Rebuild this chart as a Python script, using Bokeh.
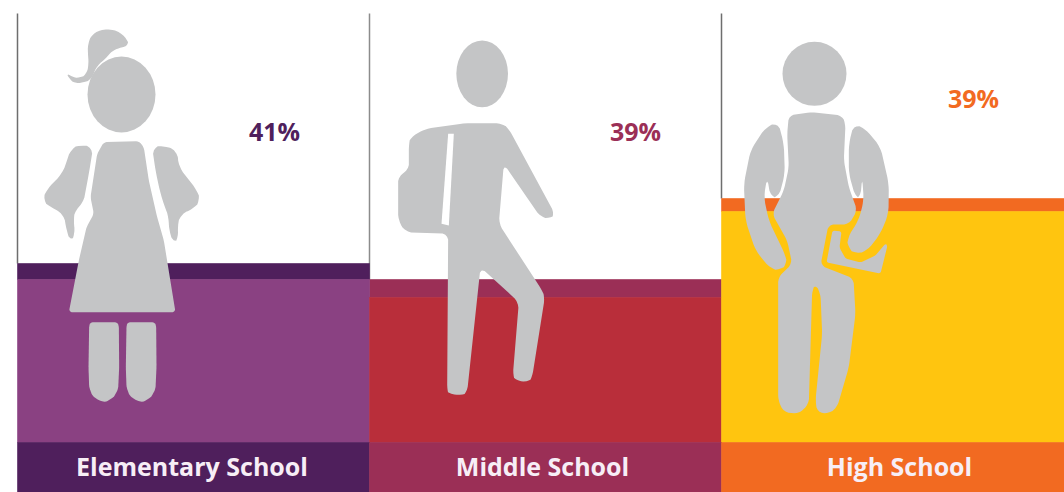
import math
from bokeh.plotting import figure
from bokeh.models import Range1d
from bokeh.core.properties import value
from bokeh.embed import file_html
from bokeh.resources import INLINE

# Chart values
categories = ["Elementary School", "Middle School", "High School"]
percent_labels = ["41%", "39%", "39%"]
panel_left = [17, 369, 721]
panel_right = [369, 721, 1064]
band_top = [263, 279, 198]
fill_top = [279, 297, 211]
label_top = [442, 442, 442]
chart_bottom = [492, 492, 492]
chart_top = [13, 13, 13]
percent_x = [274, 635, 973]
percent_y = [130.5, 130.5, 97.5]
label_x = [191.5, 542, 899]
label_y = [465.5, 465.5, 465.5]
band_colors = ["#4F1F5C", "#9B2F56", "#F26A21"]
fill_colors = ["#8A4182", "#B92E3A", "#FFC50F"]
rule_colors = ["#6E6E6E", "#8C8C8C", "#6E6E6E"]
GRAY = "#C4C5C6"
FONT = "Open Sans"

p = figure(width=1064, height=492, output_backend="svg", toolbar_location=None,
           x_range=Range1d(0, 1064), y_range=Range1d(492, 0), min_border=0)
p.axis.visible = False
p.grid.visible = False
p.outline_line_color = None
p.background_fill_color = "white"

p.segment(x0=panel_left, x1=panel_left, y0=chart_top, y1=band_top, line_color=rule_colors, line_width=1.5)
p.quad(left=panel_left, right=panel_right, top=band_top, bottom=fill_top, fill_color=band_colors, line_color=band_colors, line_width=0.6)
p.quad(left=panel_left, right=panel_right, top=fill_top, bottom=label_top, fill_color=fill_colors, line_color=fill_colors, line_width=0.6)
p.quad(left=panel_left, right=panel_right, top=label_top, bottom=chart_bottom, fill_color=band_colors, line_color=band_colors, line_width=0.6)


def round_once(pts, r):
    out = []
    n = len(pts)
    for i in range(n):
        a, b = pts[i], pts[(i + 1) % n]
        d = math.hypot(b[0] - a[0], b[1] - a[1]) or 1
        t = min(r / d, 0.4)
        out.append((a[0] + (b[0] - a[0]) * t, a[1] + (b[1] - a[1]) * t))
        out.append((b[0] - (b[0] - a[0]) * t, b[1] - (b[1] - a[1]) * t))
    return out


def shape(ox, pts, color=GRAY, r=14):
    q = pts
    if r:
        q = round_once(round_once(pts, r), r * 0.4)
    p.patch([ox + a / 3 for a, _ in q], [b / 3 for _, b in q], fill_color=color, line_color=None)


# Girl
OX = 0
p.ellipse(x=[121], y=[94], width=[68], height=[76], fill_color=GRAY, line_color=None)
shape(OX, [(262,130),(275,100),(310,85),(350,90),(380,115),(385,135),(365,140),(335,150),(315,175),(290,195),(270,240),(250,245),(225,250),(205,235),(198,215),(215,232),(240,232),(258,222),(265,190),(262,160)], r=10)
shape(OX, [(310,425),(415,422),(430,440),(445,540),(470,650),(490,720),(525,935),(205,935),(235,780),(258,680),(280,640),(270,590),(290,460)], r=6)
shape(OX, [(210,445),(240,432),(278,440),(265,520),(248,610),(225,625),(218,660),(225,700),(210,725),(198,690),(190,640),(150,620),(125,600),(140,565),(185,520),(200,480)])
shape(OX, [(455,440),(490,435),(530,450),(535,500),(590,570),(600,600),(580,625),(540,640),(530,680),(535,710),(520,730),(505,690),(505,650),(495,625),(480,580),(465,510)])
shape(OX, [(270,965),(350,965),(355,975),(356,1100),(353,1165),(340,1190),(315,1205),(295,1200),(275,1185),(266,1160),(264,1100),(266,975)], r=5)
shape(OX, [(382,965),(462,965),(467,975),(468,1100),(465,1165),(452,1190),(427,1205),(407,1200),(387,1185),(378,1160),(376,1100),(378,975)], r=5)

# Middle-school student
OX = 365
p.ellipse(x=[365 + 350 / 3], y=[220 / 3], width=[155 / 3], height=[200 / 3], fill_color=GRAY, line_color=None)
shape(OX, [(135,410),(180,385),(300,368),(410,368),(430,385),(568,640),(555,655),(525,650),(415,490),(400,670),(530,870),(538,890),(500,1130),(490,1145),(450,1140),(442,1125),(460,905),(345,800),(305,1175),(290,1185),(250,1180),(245,1170),(248,700),(120,695),(98,660),(98,525),(130,510),(130,430)], r=12)
shape(OX, [(248,400),(265,400),(250,675),(228,670)], color="white", r=0)

# High-school student
OX = 715
p.ellipse(x=[715 + 297 / 3], y=[220 / 3], width=[64], height=[64], fill_color=GRAY, line_color=None)
shape(OX, [(220,345),(290,335),(380,345),(390,370),(385,480),(400,560),(425,630),(400,672),(339,672),(315,795),(414,834),(420,940),(400,1100),(365,1220),(340,1240),(305,1235),(300,1200),(320,1000),(315,880),(300,850),(290,870),(280,1210),(250,1240),(205,1235),(188,1200),(188,830),(230,790),(215,720),(170,640),(205,570),(220,500),(215,400)], r=10)
shape(OX, [(188,365),(150,380),(105,450),(85,550),(90,660),(120,750),(165,805),(195,810),(215,790),(210,765),(160,660),(145,590),(155,530),(165,590),(190,590),(208,520),(205,430)])
shape(OX, [(351,690),(378,693),(372,741),(390,774),(435,786),(480,765),(510,729),(516,735),(495,819),(333,786)], r=4)
shape(OX, [(415,370),(450,385),(495,440),(520,550),(519,640),(495,699),(456,750),(420,762),(396,741),(396,711),(429,660),(445,600),(440,530),(435,590),(420,590),(400,520),(400,430)])

# Texts
p.text(x=percent_x, y=percent_y, text=percent_labels, text_color=band_colors,
       text_font=value(FONT), text_font_style="bold", text_font_size="25px",
       text_align="center", text_baseline="middle")
p.text(x=label_x, y=label_y, text=categories, text_color="#F7EEF6",
       text_font=value(FONT), text_font_style="bold", text_font_size="25px",
       text_align="center", text_baseline="middle")

open("out.html", "w").write(file_html(p, INLINE))
